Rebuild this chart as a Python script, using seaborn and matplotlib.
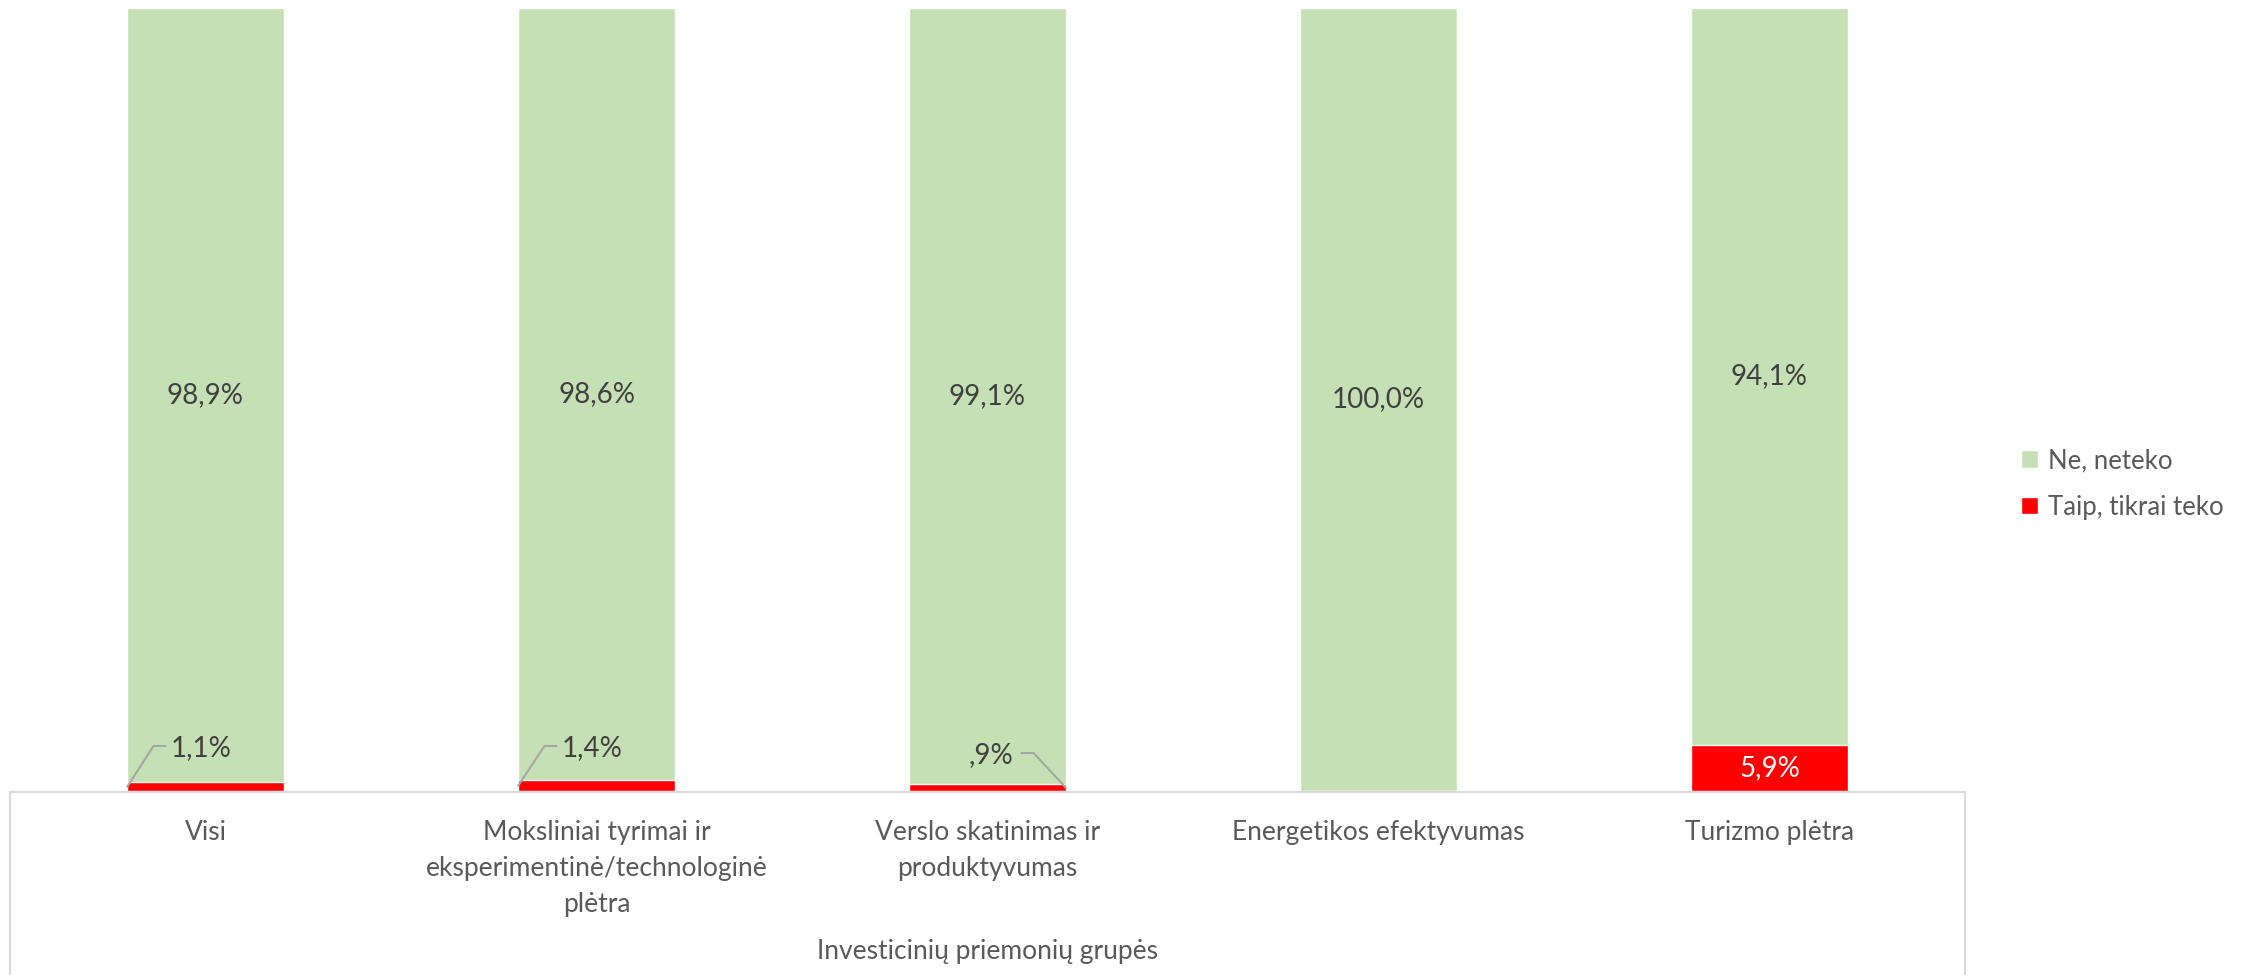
import matplotlib
matplotlib.use('Agg')
import matplotlib.pyplot as plt
from matplotlib.lines import Line2D
import seaborn as sns
import pandas as pd

# =============================================================================
# DADOS
# =============================================================================
kategorijos = ['Visi',
               'Moksliniai tyrimai ir\neksperimentinė/technologinė\nplėtra',
               'Verslo skatinimas ir\nproduktyvumas',
               'Energetikos efektyvumas',
               'Turizmo plėtra']
taip = [1.1, 1.4, 0.9, 0.0, 5.9]
ne = [98.9, 98.6, 99.1, 100.0, 94.1]
taip_labels = ['1,1%', '1,4%', ',9%', '', '5,9%']
ne_labels = ['98,9%', '98,6%', '99,1%', '100,0%', '94,1%']

ZALIA = '#c5e0b4'
RAUDONA = '#ff0000'
TEKSTAS = '#404040'
ASIS = '#595959'
LINIJA = '#d9d9d9'

df = pd.DataFrame({'kat': kategorijos, 'taip': taip, 'ne': ne})
df['viso'] = df['taip'] + df['ne']

# =============================================================================
# GRAFIKAS
# =============================================================================
sns.set_theme(style='white')
plt.rcParams['font.family'] = ['Lato', 'DejaVu Sans']

fig = plt.figure(figsize=(22.41, 9.75), dpi=100)
W, H = 2241, 975
ax = fig.add_axes([10 / W, (H - 791) / H, (1965 - 10) / W, (791 - 8) / H])

sns.barplot(data=df, x='kat', y='viso', color=ZALIA, width=0.4, ax=ax,
            label='Ne, neteko', saturation=1)
sns.barplot(data=df, x='kat', y='taip', color=RAUDONA, width=0.4, ax=ax,
            label='Taip, tikrai teko', saturation=1)

ax.set_ylim(0, 100)
ax.set_xlim(-0.5, len(kategorijos) - 0.5)
ax.set_yticks([])
ax.set_ylabel('')
for s in ax.spines.values():
    s.set_visible(False)
ax.tick_params(axis='x', length=0, pad=21, labelsize=19, labelcolor=ASIS)
for t in ax.get_xticklabels():
    t.set_linespacing(1.55)
ax.set_xlabel('Investicinių priemonių grupės', fontsize=19, color=ASIS, labelpad=16)

# reikšmės žaliose dalyse
for i, (t, n, lab) in enumerate(zip(taip, ne, ne_labels)):
    ax.text(i, t + n / 2, lab, ha='center', va='center', fontsize=20, color=TEKSTAS)

# mažos reikšmės su nuorodų linijomis
for i, (t, lab) in enumerate(zip(taip, taip_labels)):
    if not lab:
        continue
    if t > 3:
        ax.text(i, t / 2, lab, ha='center', va='center', fontsize=20, color='white')
    elif i == 2:
        ax.text(i + 0.008, 4.6, lab, ha='center', va='center', fontsize=20, color=TEKSTAS)
        ax.plot([i + 0.087, i + 0.118, i + 0.2], [4.85, 4.85, t * 0.5],
                color='#a6a6a6', lw=1.5)
    else:
        ax.text(i - 0.01, 5.5, lab, ha='center', va='center', fontsize=20, color=TEKSTAS)
        ax.plot([i - 0.2, i - 0.133, i - 0.102], [t * 0.5, 5.75, 5.75],
                color='#a6a6a6', lw=1.5)

# ašies rėmelis
y0 = (H - 792) / H
fig.add_artist(Line2D([10 / W, 1965 / W], [y0, y0], color=LINIJA, lw=1.5))
fig.add_artist(Line2D([10 / W, 10 / W], [y0, 0], color=LINIJA, lw=1.5))
fig.add_artist(Line2D([1965 / W, 1965 / W], [y0, 0], color=LINIJA, lw=1.5))

fig.legend(loc='center left', bbox_to_anchor=(1998 / W, 1 - 484 / H), frameon=False,
           fontsize=18.5, labelcolor=ASIS, handlelength=0.65, handleheight=0.65,
           handletextpad=0.4, labelspacing=0.85)
if ax.get_legend():
    ax.get_legend().remove()

fig.savefig('out.png', dpi=100)
